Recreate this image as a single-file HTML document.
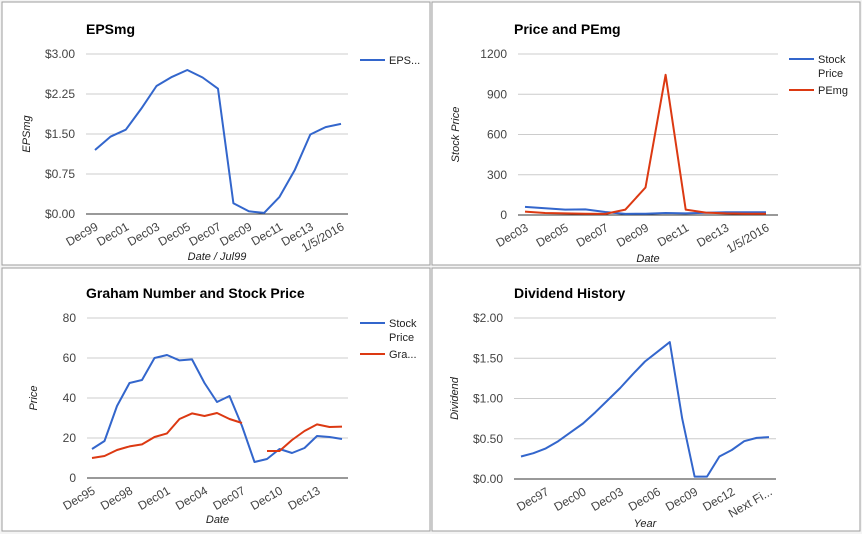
<!DOCTYPE html>
<html><head><meta charset="utf-8"><style>
body{margin:0;background:#fff;width:862px;height:534px;overflow:hidden}
svg{font-family:"Liberation Sans",Arial,sans-serif}
</style></head><body>
<svg id="s" width="862" height="534">
<rect x="0" y="0" width="862" height="534" fill="#f4f4f4"/>
</svg>
<script>
const epsCats=["Dec99","Dec00","Dec01","Dec02","Dec03","Dec04","Dec05","Dec06","Dec07","Dec08","Dec09","Dec10","Dec11","Dec12","Dec13","Dec14","1/5/2016"];
const epsVals=[1.2,1.45,1.58,1.97,2.4,2.57,2.7,2.56,2.35,0.2,0.05,0.02,0.32,0.83,1.49,1.63,1.69];
const epsTicks=["$0.00","$0.75","$1.50","$2.25","$3.00"];
const pCats=["Dec03","Dec04","Dec05","Dec06","Dec07","Dec08","Dec09","Dec10","Dec11","Dec12","Dec13","Dec14","1/5/2016"];
const pStock=[60,50,40,42,22,8,10,15,12,17,20,20,20];
const pPE=[25,15,12,10,8,40,205,1045,40,18,12,10,10];
const pTicks=["0","300","600","900","1200"];
const gCats=["Dec95","Dec96","Dec97","Dec98","Dec99","Dec00","Dec01","Dec02","Dec03","Dec04","Dec05","Dec06","Dec07","Dec08","Dec09","Dec10","Dec11","Dec12","Dec13","Dec14","Dec15"];
const gStock=[14.5,18.5,36,47.5,49,60,61.5,58.8,59.3,47.5,38,41,26,8,9.5,14.5,12.5,15,21,20.5,19.5];
const gGraham=[10,11,14,15.8,16.8,20.5,22.3,29.5,32.3,31,32.5,29.5,27.5,null,13.5,13.5,19,23.5,26.8,25.5,25.7];
const gTicks=["0","20","40","60","80"];
const dCats=["Dec95","Dec96","Dec97","Dec98","Dec99","Dec00","Dec01","Dec02","Dec03","Dec04","Dec05","Dec06","Dec07","Dec08","Dec09","Dec10","Dec11","Dec12","Dec13","Dec14","Next Fi..."];
const dVals=[0.28,0.32,0.38,0.47,0.58,0.69,0.83,0.98,1.13,1.3,1.46,1.58,1.7,0.75,0.03,0.03,0.28,0.36,0.47,0.51,0.52];
const dTicks=["$0.00","$0.50","$1.00","$1.50","$2.00"];

const NS="http://www.w3.org/2000/svg";
const svg=document.getElementById('s');
function mk(tag,attrs,parent,text){const e=document.createElementNS(NS,tag);for(const k in attrs)e.setAttribute(k,attrs[k]);if(text!==undefined)e.textContent=text;(parent||svg).appendChild(e);return e;}

function chart(o){
  const g=mk('g',{});
  
  
  const bg=mk('rect',{x:o.bx,y:o.by,width:o.bw,height:o.bh,fill:'#fff',stroke:'#9e9e9e','stroke-width':1},g);
  
  
  const t=mk('text',{x:o.tx,y:o.ty,'font-size':14,'font-weight':'bold',fill:'#000'},g,o.title);
  
  
  const n=o.cats.length;
  const xs=i=>o.px0+(o.px1-o.px0)*i/(n-1);
  const ys=v=>o.y0+(o.yTop-o.y0)*v/o.ymax;
  o.ticks.forEach((lab,i)=>{
    const v=o.ymax*i/(o.ticks.length-1);const y=ys(v);
    const gl=mk('line',{x1:o.gx0,x2:o.gx1,y1:y,y2:y,stroke:i==0?'#333':'#ccc','stroke-width':1},g);
    
    
    const tl=mk('text',{x:o.gx0-11,y:y+4,'font-size':12,fill:'#444','text-anchor':'end'},g,lab);
    
    
  });
  o.labelIdx.forEach(i=>{
    const x=xs(i),y=o.y0+15;
    const tl=mk('text',{x:x+4,y:y,'font-size':12,fill:'#444','text-anchor':'end',transform:`rotate(-30 ${x+4} ${y})`},g,o.cats[i]);
    
    
  });
  const yt=mk('text',{x:0,y:0,'font-size':11,'font-style':'italic',fill:'#222','text-anchor':'middle',transform:`translate(${o.ytx},${(o.y0+o.yTop)/2}) rotate(-90)`},g,o.ytitle);
  
  
  const xt=mk('text',{x:(o.gx0+o.gx1)/2,y:o.xty,'font-size':11,'font-style':'italic',fill:'#222','text-anchor':'middle'},g,o.xtitle);
  
  
  o.series.forEach(s=>{
    let d='',pen=false;
    s.vals.forEach((v,i)=>{if(v===null){pen=false;return;}d+=(pen?'L':'M')+xs(i).toFixed(1)+' '+ys(v).toFixed(1)+' ';pen=true;});
    const p=mk('path',{d:d,fill:'none',stroke:s.color,'stroke-width':2,'stroke-linejoin':'round'},g);
    
    
  });
  o.legend.forEach(l=>{
    const ll=mk('line',{x1:o.lx,x2:o.lx+25,y1:l.y,y2:l.y,stroke:l.color,'stroke-width':2},g);
    
    
    l.lines.forEach((tx,j)=>{
      const lt=mk('text',{x:o.lx+29,y:l.y+4+j*14,'font-size':11,fill:'#222'},g,tx);
      
      
    });
  });
}
chart({name:'epsmg-chart',bx:2,by:2,bw:428,bh:263,title:'EPSmg',tx:86,ty:34,cats:epsCats,px0:95,px1:341,gx0:86,gx1:348,y0:214,yTop:54,ymax:3,ticks:epsTicks,labelIdx:[0,2,4,6,8,10,12,14,16],ytx:30,ytitle:'EPSmg',xty:260,xtitle:'Date / Jul99',series:[{name:'eps',vals:epsVals,color:'#3366cc'}],lx:360,legend:[{y:60,color:'#3366cc',lines:['EPS...']}]});
chart({name:'price-pemg-chart',bx:432,by:2,bw:428,bh:263,title:'Price and PEmg',tx:514,ty:34,cats:pCats,px0:525,px1:766,gx0:518,gx1:778,y0:215,yTop:54,ymax:1200,ticks:pTicks,labelIdx:[0,2,4,6,8,10,12],ytx:459,ytitle:'Stock Price',xty:262,xtitle:'Date',series:[{name:'stock-price',vals:pStock,color:'#3366cc'},{name:'pemg',vals:pPE,color:'#dc3912'}],lx:789,legend:[{y:59,color:'#3366cc',lines:['Stock','Price']},{y:90,color:'#dc3912',lines:['PEmg']}]});
chart({name:'graham-chart',bx:2,by:268,bw:428,bh:263,title:'Graham Number and Stock Price',tx:86,ty:298,cats:gCats,px0:92,px1:342,gx0:87,gx1:348,y0:478,yTop:318,ymax:80,ticks:gTicks,labelIdx:[0,3,6,9,12,15,18],ytx:37,ytitle:'Price',xty:523,xtitle:'Date',series:[{name:'stock-price',vals:gStock,color:'#3366cc'},{name:'graham-number',vals:gGraham,color:'#dc3912'}],lx:360,legend:[{y:323,color:'#3366cc',lines:['Stock','Price']},{y:354,color:'#dc3912',lines:['Gra...']}]});
chart({name:'dividend-chart',bx:432,by:268,bw:428,bh:263,title:'Dividend History',tx:514,ty:298,cats:dCats,px0:521,px1:769,gx0:514,gx1:776,y0:479,yTop:318,ymax:2,ticks:dTicks,labelIdx:[2,5,8,11,14,17,20],ytx:458,ytitle:'Dividend',xty:527,xtitle:'Year',series:[{name:'dividend',vals:dVals,color:'#3366cc'}],lx:9999,legend:[]});
</script>
</body></html>
